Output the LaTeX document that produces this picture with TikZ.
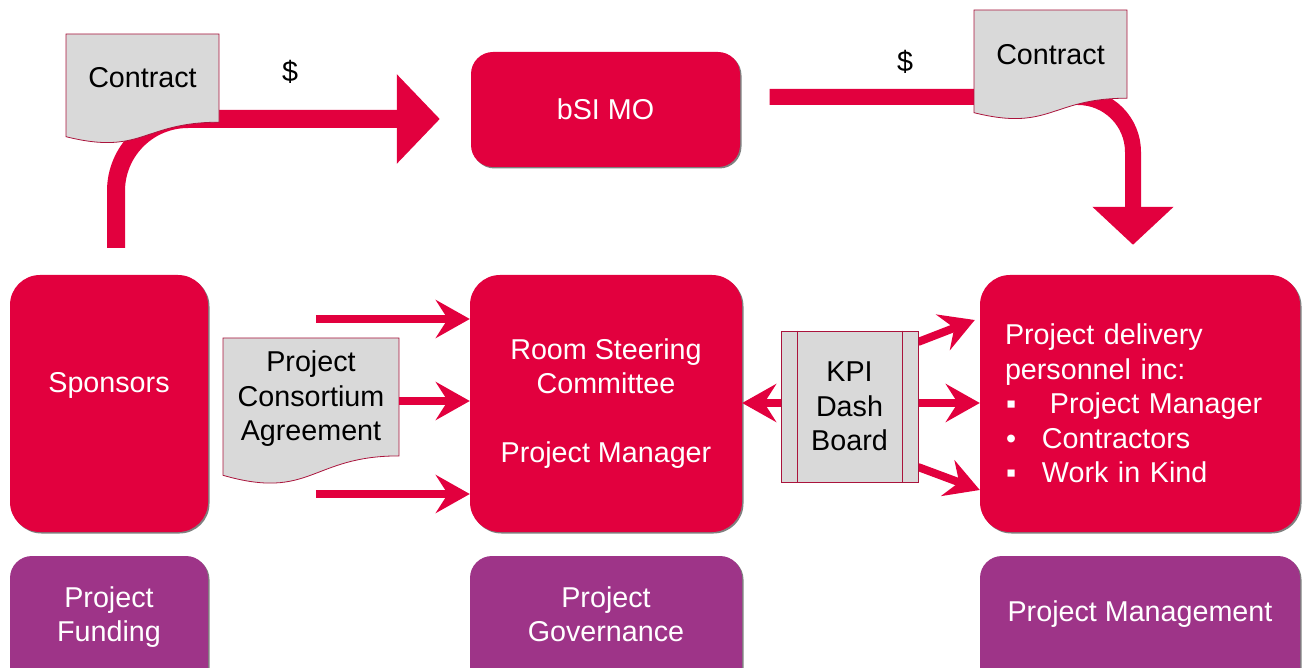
\documentclass[tikz,border=0pt]{standalone}
\usepackage{fontspec}
\setmainfont{Liberation Sans}
\usetikzlibrary{arrows.meta,shadows,calc}
\definecolor{bsred}{RGB}{226,0,62}
\definecolor{bspurple}{RGB}{158,52,136}
\definecolor{docgray}{RGB}{217,217,217}
\definecolor{docedge}{RGB}{170,20,60}
\begin{document}
\begin{tikzpicture}[x=1pt,y=-1pt,
  every node/.style={font=\fontsize{28.7}{34.5}\selectfont},
  box/.style={rounded corners=#1, inner sep=0pt, text=white, align=center,
    drop shadow={shadow xshift=1.5pt,shadow yshift=-1.5pt,opacity=0.5,fill=black}},
  redbox/.style={box=#1, fill=bsred},
  redbox/.default=30pt,
  purbox/.style={box=22pt, fill=bspurple},
  wtext/.style={text=white, align=center, inner sep=0pt},
  btext/.style={text=black, align=center, inner sep=0pt},
  docline/.style={fill=docgray, draw=docedge, line width=0.8pt},
  bigarrow/.style={draw=bsred, line width=#1},
  thinarrow/.style={draw=bsred, line width=8pt, -{Stealth[length=34pt,width=38pt,inset=12pt]}}
]
\useasboundingbox (0,0) rectangle (1307,668);

% main boxes
\node[redbox, minimum width=198pt, minimum height=257pt] (spon) at (109,403.5) {};
\node[wtext] (spont) at (109,385) {Sponsors};
\node[redbox=22pt, minimum width=269pt, minimum height=115pt] (bsi) at (605.5,109.5) {bSI MO};
\node[redbox, minimum width=272pt, minimum height=257pt] (room) at (606,403.5)
  {Room Steering\\Committee\\[34.5pt]Project Manager};
\node[redbox, minimum width=320pt, minimum height=257pt, text width=270pt, align=left] (deliv) at (1140,403.5)
  {Project delivery\\personnel inc:\\\makebox[37pt][l]{\hspace{1pt}▪}\hspace{8pt}Project Manager\\\makebox[37pt][l]{\hspace{1pt}•}Contractors\\\makebox[37pt][l]{\hspace{1pt}▪}Work in Kind};

% purple boxes
\node[purbox, minimum width=198pt, minimum height=144pt] (fund) at (109,628) {};
\node[wtext] (fundt) at (109,617) {Project\\Funding};
\node[purbox, minimum width=272pt, minimum height=144pt] (gov) at (606,628) {};
\node[wtext] (govt) at (606,614) {Project\\Governance};
\node[purbox, minimum width=320pt, minimum height=144pt] (mgmt) at (1140,628) {};
\node[wtext] (mgmtt) at (1140,614) {Project Management};

% big arrows
\coordinate (a1s) at ($(spon.north)+(7,-27)$);
\coordinate (a1e) at ($(bsi.west)+(-31,9.5)$);
\draw[bigarrow=18pt, rounded corners=72pt, -{Triangle[length=43pt,width=87pt]}] (a1s) -- (a1s |- a1e) -- (a1e);
\coordinate (a2s) at ($(bsi.east)+(29.5,-12.5)$);
\coordinate (a2e) at ($(deliv.north)+(-7,-30)$);
\draw[bigarrow=16pt, rounded corners=55pt, -{Triangle[length=38pt,width=79pt]}] (a2s) -- (a2s -| a2e) -- (a2e);

% contract documents
\path[docline] (66,34) -- (219,34) -- (219,122.2) .. controls (142.5,122.2) and (142.5,155.8) .. (66,136.7) -- cycle;
\node[btext] (c1) at (142.5,78) {Contract};
\path[docline] (974,10) -- (1127,10) -- (1127,98.2) .. controls (1050.5,98.2) and (1050.5,131.8) .. (974,112.7) -- cycle;
\node[btext] (c2) at (1050.5,55) {Contract};
\node[btext] (d1) at (290,72) {\$};
\node[btext] (d2) at (905,62) {\$};

% consortium agreement
\path[docline] (223,338) -- (399,338) -- (399,455.9) .. controls (311,455.9) and (311,500.7) .. (223,475.3) -- cycle;
\node[btext, minimum width=176pt] (pca) at (311,399) {Project\\Consortium\\Agreement};

% thin arrows into steering committee
\coordinate (t1) at ($(room.west)+(-154,-84.5)$);
\coordinate (t3) at ($(room.west)+(-154,90.5)$);
\draw[thinarrow] (t1) -- (t1 -| room.west);
\draw[thinarrow] ([yshift=-2pt]pca.east) -- ([yshift=-2pt]pca.east -| room.west);
\draw[thinarrow] (t3) -- (t3 -| room.west);

% KPI arrows
\coordinate (k0) at (849.5,406.5);
\coordinate (kl) at ($(k0)+(-68.5,-3.5)$);
\coordinate (kr1) at ($(k0)+(68.5,-64.5)$);
\coordinate (kr2) at ($(k0)+(68.5,-3.5)$);
\coordinate (kr3) at ($(k0)+(68.5,60.5)$);
\draw[thinarrow] (kl) -- (kl -| room.east);
\draw[thinarrow] (kr1) -- ($(deliv.west)+(-5,-83.5)$);
\draw[thinarrow] (kr2) -- (kr2 -| deliv.west);
\draw[thinarrow] (kr3) -- ($(deliv.west)+(0,86.5)$);

% KPI dashboard
\node[draw=docedge, fill=docgray, line width=0.8pt, minimum width=137pt, minimum height=151pt, align=center, inner sep=0pt,
  drop shadow={shadow xshift=1.2pt,shadow yshift=-1.2pt,opacity=0.4,fill=black}] (kpi) at (k0) {KPI\\Dash\\Board};
\draw[docedge, line width=0.8pt] ([xshift=17pt]kpi.north west) -- ([xshift=17pt]kpi.south west);
\draw[docedge, line width=0.8pt] ([xshift=-16pt]kpi.north east) -- ([xshift=-16pt]kpi.south east);
\end{tikzpicture}
\end{document}
